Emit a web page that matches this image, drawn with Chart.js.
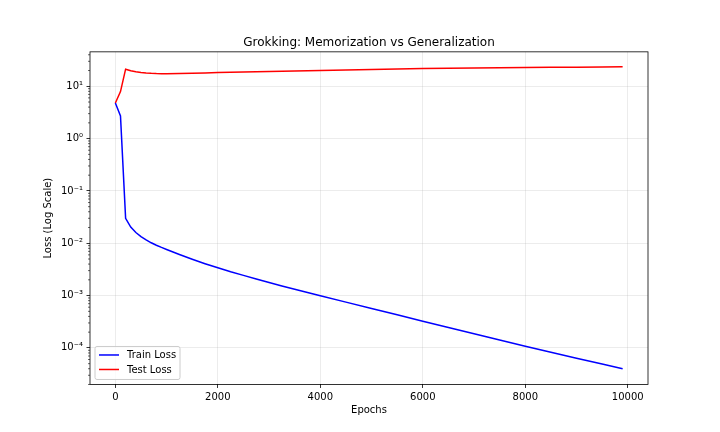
<!DOCTYPE html>
<html lang="en">
<head>
    <meta charset="UTF-8">
    <title>Grokking: Memorization vs Generalization</title>
    <script src="https://cdn.jsdelivr.net/npm/chart.js"></script>
    <style>
        html, body { margin: 0; padding: 0; background: #ffffff; }
        canvas { display: block; }
    </style>
</head>
<body>
    <canvas id="chart_grok" width="720" height="432"></canvas>

    <script>
        // values
        const epochs = [0, 100, 200, 300, 400, 500, 600, 700, 800, 900, 1000, 1250, 1500, 1750, 2000, 2250, 2500, 2750, 3000, 3250, 3500, 3750, 4000, 4500, 5000, 5500, 6000, 6500, 7000, 7500, 8000, 8500, 9000, 9500, 9900];
        const trainLoss = [4.8, 2.7, 0.030, 0.0204, 0.0160, 0.0134, 0.0116, 0.0102, 0.00918, 0.00832, 0.00759, 0.00610, 0.00495, 0.00407, 0.00339, 0.00285, 0.00243, 0.00207, 0.00178, 0.00153, 0.00132, 0.00114, 0.000993, 0.000750, 0.000568, 0.000429, 0.000324, 0.000245, 0.000186, 0.000141, 0.000108, 0.0000826, 0.0000637, 0.0000492, 0.0000400];
        const testLoss = [4.8, 7.9, 21.2, 19.8, 19.0, 18.4, 18.0, 17.7, 17.5, 17.4, 17.4, 17.5, 17.7, 18.0, 18.3, 18.5, 18.7, 19.0, 19.2, 19.4, 19.6, 19.8, 20.0, 20.5, 21.0, 21.4, 21.8, 22.1, 22.3, 22.6, 22.8, 23.0, 23.2, 23.4, 23.5];
        const xTicks = [0, 2000, 4000, 6000, 8000, 10000];
        const yTicks = [1e-4, 1e-3, 1e-2, 1e-1, 1, 10];
        const yTickLabels = ['10⁻⁴', '10⁻³', '10⁻²', '10⁻¹', '10⁰', '10¹'];

        const FONT = 'DejaVu Sans';
        Chart.defaults.font.family = FONT;
        Chart.defaults.font.size = 10;
        Chart.defaults.color = '#000000';

        // frame, minor log ticks, title and legend box like matplotlib
        const mplDecor = {
            id: 'mplDecor',
            afterDraw(chart) {
                const { ctx, chartArea: a, scales } = chart;
                const y = scales.y;
                ctx.save();

                ctx.strokeStyle = '#000000';
                ctx.lineWidth = 0.6;
                for (let e = -6; e <= 2; e++) {
                    for (let m = 2; m <= 9; m++) {
                        const v = m * Math.pow(10, e);
                        if (v < y.min || v > y.max) continue;
                        const py = y.getPixelForValue(v);
                        ctx.beginPath();
                        ctx.moveTo(a.left, py);
                        ctx.lineTo(a.left - 2, py);
                        ctx.stroke();
                    }
                }

                ctx.lineWidth = 0.8;
                ctx.strokeRect(a.left, a.top, a.right - a.left, a.bottom - a.top);

                ctx.fillStyle = '#000000';
                ctx.font = '12px "' + FONT + '"';
                ctx.textAlign = 'center';
                ctx.textBaseline = 'alphabetic';
                ctx.fillText('Grokking: Memorization vs Generalization', (a.left + a.right) / 2, a.top - 6);

                // legend, lower left inside the axes
                const bx = a.left + 5, bh = 33, bw = 85;
                const by = a.bottom - 5 - bh;
                ctx.beginPath();
                if (ctx.roundRect) ctx.roundRect(bx, by, bw, bh, 2);
                else ctx.rect(bx, by, bw, bh);
                ctx.fillStyle = 'rgba(255,255,255,0.8)';
                ctx.fill();
                ctx.strokeStyle = '#cccccc';
                ctx.lineWidth = 1;
                ctx.stroke();

                ctx.font = '10px "' + FONT + '"';
                ctx.textAlign = 'left';
                ctx.textBaseline = 'middle';
                chart.data.datasets.forEach((ds, i) => {
                    const ry = by + 8.5 + i * 14.5;
                    ctx.strokeStyle = ds.borderColor;
                    ctx.lineWidth = 1.5;
                    ctx.beginPath();
                    ctx.moveTo(bx + 4, ry);
                    ctx.lineTo(bx + 24, ry);
                    ctx.stroke();
                    ctx.fillStyle = '#000000';
                    ctx.fillText(ds.label, bx + 32, ry + 0.5);
                });

                ctx.restore();
            }
        };

        const gridStyle = {
            color: 'rgba(176,176,176,0.3)',
            lineWidth: 0.8,
            tickColor: '#000000',
            tickWidth: 0.8,
            tickLength: 3.5
        };

        const ctx = document.getElementById('chart_grok').getContext('2d');
        new Chart(ctx, {
            type: 'line',
            data: {
                datasets: [
                    {
                        label: 'Train Loss',
                        data: epochs.map((e, i) => ({ x: e, y: trainLoss[i] })),
                        borderColor: '#0000ff',
                        borderWidth: 1.5,
                        pointRadius: 0,
                        tension: 0,
                        fill: false
                    },
                    {
                        label: 'Test Loss',
                        data: epochs.map((e, i) => ({ x: e, y: testLoss[i] })),
                        borderColor: '#ff0000',
                        borderWidth: 1.5,
                        pointRadius: 0,
                        tension: 0,
                        fill: false
                    }
                ]
            },
            options: {
                responsive: false,
                animation: false,
                layout: { padding: { left: 0, right: 72, top: 51.84, bottom: 0 } },
                plugins: {
                    legend: { display: false },
                    title: { display: false },
                    tooltip: { enabled: false }
                },
                scales: {
                    x: {
                        type: 'linear',
                        min: -495,
                        max: 10395,
                        afterBuildTicks: s => { s.ticks = xTicks.map(v => ({ value: v })); },
                        afterFit: s => { s.height = 47.52; },
                        ticks: { autoSkip: false, maxRotation: 0, padding: 3.5, callback: v => String(v) },
                        grid: gridStyle,
                        border: { display: false },
                        title: { display: true, text: 'Epochs', padding: { top: 0, bottom: 16 } }
                    },
                    y: {
                        type: 'logarithmic',
                        min: 2.0e-5,
                        max: 45.5,
                        afterBuildTicks: s => { s.ticks = yTicks.map(v => ({ value: v })); },
                        afterFit: s => { s.width = 90; },
                        ticks: {
                            autoSkip: false,
                            padding: 3.5,
                            callback: v => {
                                const i = yTicks.indexOf(v);
                                return i >= 0 ? yTickLabels[i] : '';
                            }
                        },
                        grid: gridStyle,
                        border: { display: false },
                        title: { display: true, text: 'Loss (Log Scale)', padding: { top: 42.5, bottom: 0 } }
                    }
                }
            },
            plugins: [mplDecor]
        });
    </script>
</body>
</html>
